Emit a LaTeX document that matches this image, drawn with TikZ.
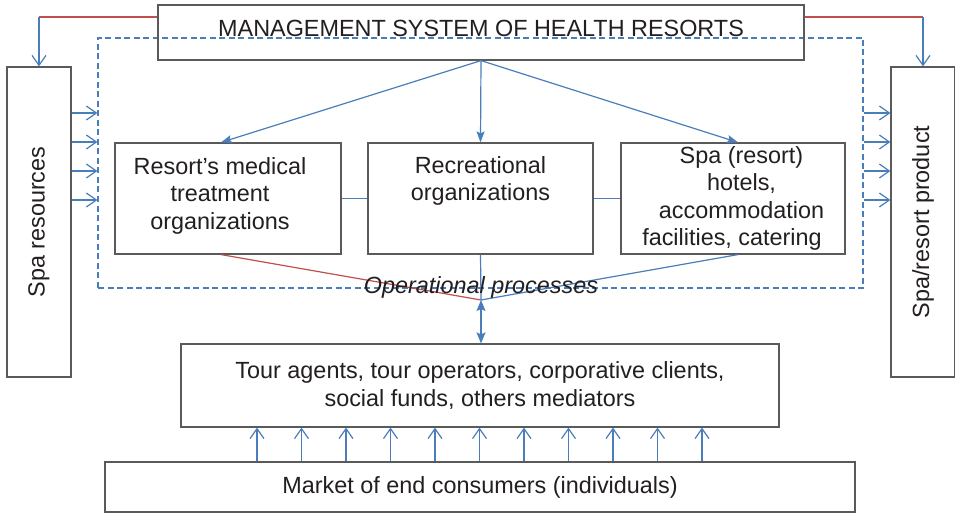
\documentclass[tikz,border=0pt]{standalone}
\usepackage{fontspec}
\setmainfont{Liberation Sans}
\usetikzlibrary{arrows.meta}
\definecolor{lineblue}{HTML}{4A7EBB}
\definecolor{linered}{HTML}{C0504D}
\definecolor{boxgray}{HTML}{5A5A5A}
\definecolor{txt}{HTML}{231F20}
\newcommand\myfs{\fontsize{23.4}{27.5}\selectfont}
\begin{document}
\begin{tikzpicture}[x=1pt,y=-1pt,
  box/.style={draw=boxgray, line width=1.2pt, inner sep=0pt, text=txt, align=center, font=\myfs},
  lbl/.style={inner sep=0pt, text=txt, align=center, font=\myfs},
  blueline/.style={draw=lineblue, line width=1.2pt},
  redline/.style={draw=linered, line width=1.2pt},
  openarr/.style={blueline, -{Straight Barb[length=10pt,width=14pt,line width=1.2pt]}},
  fillarr/.style={blueline, -{Stealth[length=11pt,width=8pt,inset=2pt]}},
  dblarr/.style={blueline, {Stealth[length=11pt,width=9pt,inset=2pt]}-{Stealth[length=11pt,width=9pt,inset=2pt]}},
  dashbox/.style={draw=lineblue, line width=1.2pt, dash pattern=on 6pt off 3.5pt, inner sep=0pt}]
\useasboundingbox (0,0) rectangle (955,513);
\fill[white] (0,0) rectangle (955,513);

% dashed operational area
\node[dashbox, minimum width=765pt, minimum height=250pt] (ops) at (480.5,163) {};

% header
\node[box, minimum width=646pt, minimum height=55pt] (mgmt) at (481,32.5) {};
\node[lbl] (mgmttxt) at (481,28.5) {MANAGEMENT SYSTEM OF HEALTH RESORTS};

% side boxes
\node[box, minimum width=64pt, minimum height=310pt] (res) at (39,222) {};
\node[lbl, rotate=90] (restxt) at (39,222) {Spa resources};
\node[box, minimum width=64pt, minimum height=310pt] (prod) at (923,222) {};
\node[lbl, rotate=90] (prodtxt) at (923,222) {Spa/resort product};

% inner boxes
\node[box, minimum width=226pt, minimum height=111pt] (med) at (228,198.5) {};
\node[lbl] (medtxt) at (220,195.5) {Resort’s medical\\treatment\\organizations};
\node[box, minimum width=225pt, minimum height=111pt] (rec) at (480.5,198.5) {};
\node[lbl] (rectxt) at (480.5,181) {Recreational\\organizations};
\node[box, minimum width=224pt, minimum height=111pt] (hot) at (733,198.5) {};
\node[lbl] (hottxt) at (732,198.5) {\hspace*{19pt}Spa (resort)\\\hspace*{19pt}hotels,\\\hspace*{19pt}accommodation\\facilities, catering};

% bottom boxes
\node[box, minimum width=598pt, minimum height=83pt] (agents) at (480,385.5) {Tour agents, tour operators, corporative clients,\\social funds, others mediators};
\node[box, minimum width=750pt, minimum height=50pt] (market) at (480,487) {Market of end consumers (individuals)};

% management side connectors
\coordinate (cl) at (39,17);
\coordinate (cr) at (923,17);
\draw[redline] (mgmt.west |- cl) -- (cl);
\draw[openarr] (cl) -- (res.north);
\draw[redline] (mgmt.east |- cr) -- (cr);
\draw[openarr] (cr) -- (prod.north);

% side arrows
\foreach \i/\yy in {1/113,2/142,3/171,4/200}{
  \coordinate (h\i) at (0,\yy);
  \draw[openarr] (res.east |- h\i) -- (ops.west |- h\i);
  \draw[openarr] (ops.east |- h\i) -- (prod.west |- h\i);
}

% top arrows
\draw[fillarr] (mgmt.south) -- ([xshift=-7pt]med.north);
\draw[fillarr] (mgmt.south) -- (rec.north);
\draw[fillarr] (mgmt.south) -- ([xshift=5pt]hot.north);

% links between inner boxes
\draw[blueline] (med.east) -- (rec.west);
\draw[blueline] (rec.east) -- (hot.west);

% operational processes
\coordinate (m) at (481,300);
\draw[redline] ([xshift=-7pt]med.south) -- (m);
\draw[blueline] (rec.south) -- (m);
\draw[blueline] ([xshift=5pt]hot.south) -- (m);
\node[lbl, font=\myfs\itshape] (optxt) at (481,287) {Operational processes};
\draw[dblarr] (m) -- (agents.north -| m);

% market arrows
\foreach \k in {0,...,10}{
  \pgfmathsetmacro{\xx}{257+44.5*\k}
  \coordinate (u\k) at (\xx,0);
  \draw[openarr] (market.north -| u\k) -- (agents.south -| u\k);
}
\end{tikzpicture}
\end{document}
